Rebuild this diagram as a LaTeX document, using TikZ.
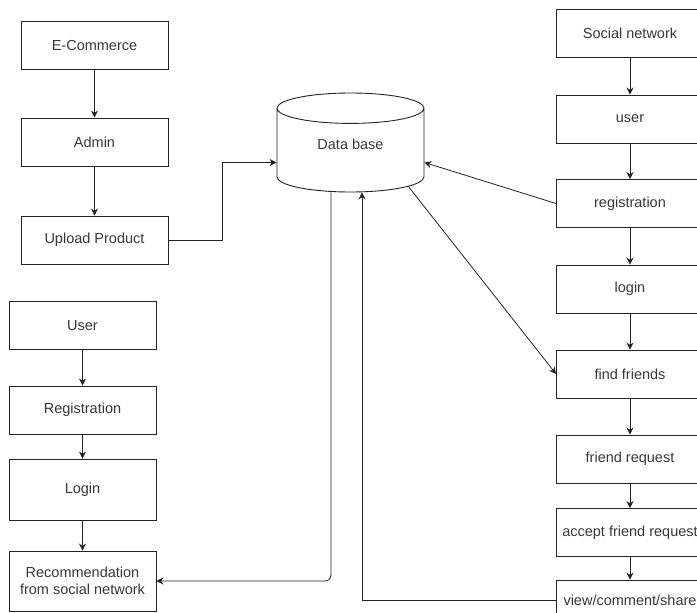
\documentclass[tikz,border=0pt]{standalone}
\usepackage{fontspec}
\setmainfont{Liberation Sans}
\usetikzlibrary{shapes.geometric,arrows.meta}
\tikzset{every node/.append style={align=center}}
\definecolor{linecolor}{RGB}{35, 35, 35}
\definecolor{labelcolor}{RGB}{55, 55, 55}

\begin{document}
\begin{tikzpicture}[
    x=1pt, y=-1pt,
    block/.style={draw=linecolor, line width=0.9pt, minimum width=147pt, minimum height=48pt, inner sep=0pt, text=labelcolor, font=\fontsize{14.5}{17}\selectfont},
    database/.style={draw=linecolor, line width=0.9pt, cylinder, shape border rotate=90, aspect=0.46, minimum width=147pt, minimum height=99pt, inner sep=0pt, text depth=12pt, text=labelcolor, font=\fontsize{14.5}{17}\selectfont},
    flow/.style={draw=linecolor, line width=0.8pt, -{Stealth[length=7pt, width=7pt]}},
]
    \useasboundingbox (0, 0) rectangle (697, 613);

    % E-commerce side
    \node[block] (ecommerce) at (94.5, 45.5) {E-Commerce};
    \node[block] (admin) at (94.5, 142) {Admin};
    \node[block] (upload) at (94.5, 240) {Upload Product};

    % Data base
    \node[database, anchor=shape center] (db) at (350.5, 142.5) {Data base};

    % Social network side
    \node[block] (social) at (630, 33) {Social network};
    \node[block] (snuser) at (630, 119) {user};
    \node[block] (snreg) at (630, 203.5) {registration};
    \node[block] (snlogin) at (630, 289) {login};
    \node[block] (findfriends) at (630, 374) {find friends};
    \node[block] (friendreq) at (630, 459) {friend request};
    \node[block] (acceptreq) at (630, 532.5) {accept friend request};
    \node[block, minimum height=40pt] (viewshare) at (630, 600) {view/comment/share};

    % Customer side
    \node[block] (user) at (82.5, 325.5) {User};
    \node[block] (registration) at (82.5, 410) {Registration};
    \node[block, minimum height=61pt] (login) at (82.5, 489.5) {Login};
    \node[block, minimum height=60pt] (recommend) at (82.5, 581) {Recommendation\\from social network};

    % Flows
    \draw[flow] (ecommerce) -- (admin);
    \draw[flow] (admin) -- (upload);
    \draw[flow] (upload.east) -- ++(54, 0) |- ([yshift=-20pt]db.shape center -| db.west);
    \draw[flow] (social) -- (snuser);
    \draw[flow] (snuser) -- (snreg);
    \draw[flow] (snreg) -- (snlogin);
    \draw[flow] (snlogin) -- (findfriends);
    \draw[flow] (findfriends) -- (friendreq);
    \draw[flow] (friendreq) -- (acceptreq);
    \draw[flow] (acceptreq) -- (viewshare);
    \draw[flow] (user) -- (registration);
    \draw[flow] (registration) -- (login);
    \draw[flow] (login) -- (recommend);
    \draw[flow] (snreg.west) -- ([yshift=-20pt]db.shape center -| db.east);
    \draw[flow] (db.-32) -- (findfriends.west);
    \draw[flow, rounded corners=6pt] ([xshift=-19.5pt]db.south) |- (recommend.east);
    \draw[flow] (viewshare.west) -| ([xshift=11.5pt]db.south);

\end{tikzpicture}
\end{document}
